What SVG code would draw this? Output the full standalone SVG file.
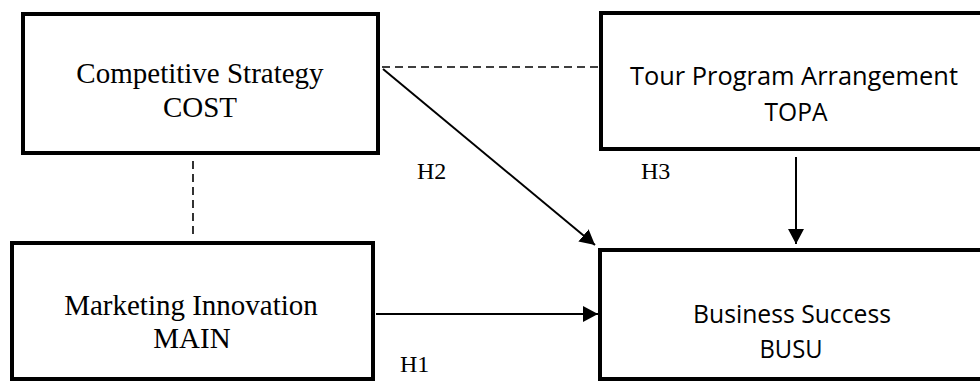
<svg xmlns="http://www.w3.org/2000/svg" width="980" height="381" viewBox="0 0 980 381">
<style>
.box{fill:#fff;stroke:#000;stroke-width:4}
.serif{font-family:"Liberation Serif","Times New Roman",serif;font-size:29px;fill:#000;text-anchor:middle}
.sans{font-family:"Open Sans","Noto Sans",sans-serif;font-size:26px;fill:#000;text-anchor:middle}
.lbl{font-family:"Liberation Serif","Times New Roman",serif;font-size:24px;fill:#000}
.dash{stroke:#000;stroke-width:1.6;stroke-dasharray:8 5;fill:none}
.arr{stroke:#000;stroke-width:2;fill:none;marker-end:url(#ah)}
</style>
<defs>
<marker id="ah" viewBox="0 0 15 16" refX="15" refY="8" markerWidth="15" markerHeight="16" markerUnits="userSpaceOnUse" orient="auto">
<path d="M0,0 L15,8 L0,16 z" fill="#000"/>
</marker>
</defs>
<rect width="980" height="381" fill="#fff"/>
<g id="connectors">
<line class="dash" x1="382" y1="67" x2="598" y2="67"/>
<line class="dash" x1="193" y1="161" x2="193" y2="237"/>
<line class="arr" x1="383" y1="69" x2="595" y2="245"/>
<line class="arr" x1="796" y1="157" x2="796" y2="244"/>
<line class="arr" x1="376" y1="314" x2="598" y2="314"/>
<text class="lbl" x="417" y="179">H2</text>
<text class="lbl" x="641" y="179">H3</text>
<text class="lbl" x="400" y="372">H1</text>
</g>
<g id="cost">
<rect class="box" x="23" y="14" width="355" height="139"/>
<text class="serif" x="200" y="83">Competitive Strategy</text>
<text class="serif" x="200" y="117">COST</text>
</g>
<g id="topa">
<rect class="box" x="601" y="13" width="400" height="136"/>
<text class="sans" x="794" y="85" textLength="328" lengthAdjust="spacingAndGlyphs">Tour Program Arrangement</text>
<text class="sans" x="796" y="121" textLength="63" lengthAdjust="spacingAndGlyphs">TOPA</text>
</g>
<g id="main">
<rect class="box" x="12" y="243" width="361" height="136"/>
<text class="serif" x="191" y="315">Marketing Innovation</text>
<text class="serif" x="192" y="348">MAIN</text>
</g>
<g id="busu">
<rect class="box" x="600" y="250" width="400" height="129"/>
<text class="sans" x="792" y="323" textLength="198" lengthAdjust="spacingAndGlyphs">Business Success</text>
<text class="sans" x="791" y="358" textLength="63" lengthAdjust="spacingAndGlyphs">BUSU</text>
</g>
</svg>
